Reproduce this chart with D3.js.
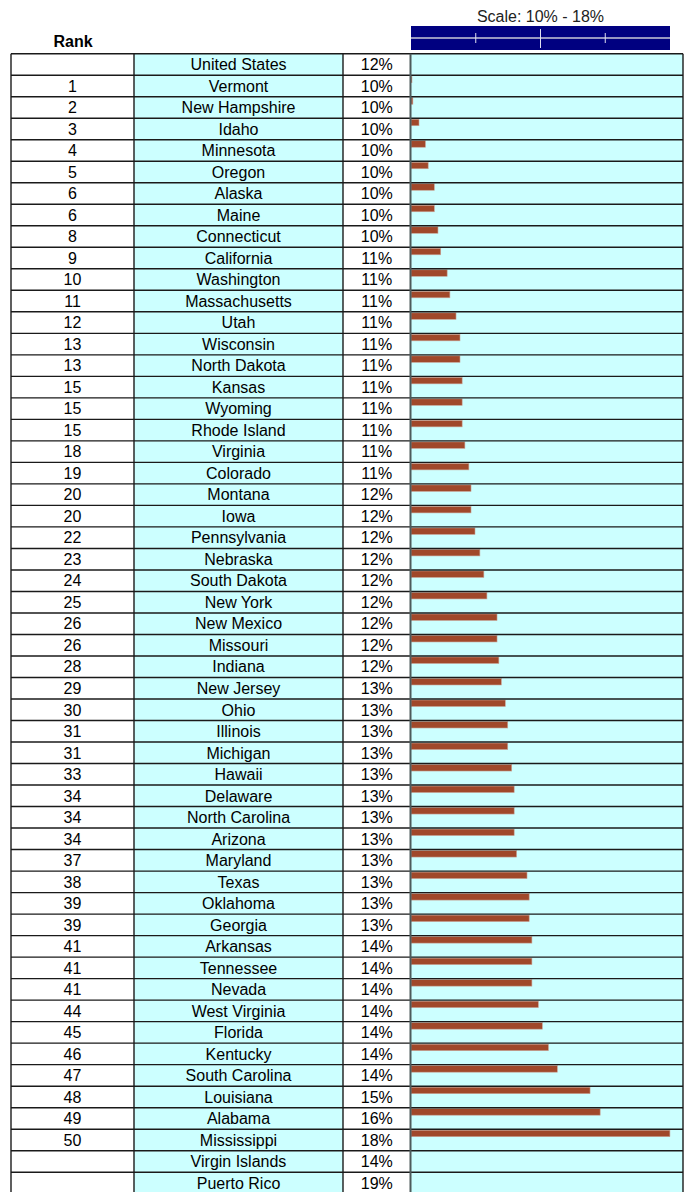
<!DOCTYPE html>
<html>
<head>
<meta charset="utf-8">
<script src="https://cdn.jsdelivr.net/npm/d3@7"></script>
<style>
  body { margin: 0; background: #fff; }
  svg { display: block; font-family: "Liberation Sans", Arial, sans-serif; }
</style>
</head>
<body>
<div id="chart"></div>
<script>
// rows of the table, top to bottom
var names = ["United States", "Vermont", "New Hampshire", "Idaho", "Minnesota", "Oregon", "Alaska", "Maine",
  "Connecticut", "California", "Washington", "Massachusetts", "Utah", "Wisconsin", "North Dakota", "Kansas",
  "Wyoming", "Rhode Island", "Virginia", "Colorado", "Montana", "Iowa", "Pennsylvania", "Nebraska",
  "South Dakota", "New York", "New Mexico", "Missouri", "Indiana", "New Jersey", "Ohio", "Illinois",
  "Michigan", "Hawaii", "Delaware", "North Carolina", "Arizona", "Maryland", "Texas", "Oklahoma", "Georgia",
  "Arkansas", "Tennessee", "Nevada", "West Virginia", "Florida", "Kentucky", "South Carolina", "Louisiana",
  "Alabama", "Mississippi", "Virgin Islands", "Puerto Rico"];
var ranks = ["", "1", "2", "3", "4", "5", "6", "6", "8", "9", "10", "11", "12", "13", "13", "15", "15", "15",
  "18", "19", "20", "20", "22", "23", "24", "25", "26", "26", "28", "29", "30", "31", "31", "33", "34", "34",
  "34", "37", "38", "39", "39", "41", "41", "41", "44", "45", "46", "47", "48", "49", "50", "", ""];
// percent values
var values = [12.1, 9.60, 9.63, 9.83, 10.04, 10.13, 10.33, 10.33, 10.45, 10.54, 10.75, 10.84, 11.04, 11.17,
  11.17, 11.24, 11.24, 11.24, 11.33, 11.46, 11.53, 11.53, 11.66, 11.82, 11.95, 12.05, 12.38, 12.38, 12.44,
  12.52, 12.65, 12.73, 12.73, 12.86, 12.94, 12.94, 12.94, 13.02, 13.36, 13.43, 13.43, 13.52, 13.52, 13.52,
  13.73, 13.86, 14.06, 14.35, 15.42, 15.75, 18.03, 14.0, 19.0];
// rows that get a bar (states only)
var hasBar = names.map(function(d, i){ return i > 0 && i < 51; });
var scaleTicks = [12, 14, 16];
var scaleDomain = [10, 18];

var W = 684, H = 1192;
var colX = [11, 134, 343, 410.5, 683];
var cyan = "#ccffff", barColor = "#a0482a", lineColor = "#1a1a1a";

var svg = d3.select("#chart").append("svg")
    .attr("width", W)
    .attr("height", H);

var y = d3.scaleBand()
    .domain(names)
    .range([53.7, 53.7 + names.length * 21.51]);

// bar scale
var x = d3.scaleLinear().domain(scaleDomain).range([424.2, 669]);
// header scale
var hx = d3.scaleLinear().domain(scaleDomain).range([411, 670]);

// cyan columns
svg.append("rect").attr("x", colX[1]).attr("y", y.range()[0])
    .attr("width", colX[2] - colX[1]).attr("height", H).style("fill", cyan);
svg.append("rect").attr("x", colX[3]).attr("y", y.range()[0])
    .attr("width", colX[4] - colX[3]).attr("height", H).style("fill", cyan);

// bars
svg.selectAll("rect.bar")
    .data(names.filter(function(d, i){ return hasBar[i]; }))
    .enter()
    .append("rect")
    .attr("class", "bar")
    .attr("x", colX[3] + 0.5)
    .attr("y", function(d){ return y(d) + 1; })
    .attr("height", 6.5)
    .attr("width", function(d){ return Math.max(0.8, x(values[names.indexOf(d)]) - colX[3] - 0.5); })
    .style("fill", barColor)
    .style("stroke", "#c9a497")
    .style("stroke-width", 0.6);

// horizontal grid
var lines = names.map(function(d){ return y(d); });
lines.push(y.range()[1]);
svg.selectAll("line.h")
    .data(lines)
    .enter()
    .append("line")
    .attr("x1", colX[0]).attr("x2", colX[4])
    .attr("y1", function(d){ return d; }).attr("y2", function(d){ return d; })
    .style("stroke", lineColor)
    .style("stroke-width", 1.4);

// vertical grid
svg.selectAll("line.v")
    .data(colX)
    .enter()
    .append("line")
    .attr("x1", function(d){ return d; }).attr("x2", function(d){ return d; })
    .attr("y1", y.range()[0]).attr("y2", H)
    .style("stroke", function(d, i){ return i == 3 ? "#4d5a5a" : lineColor; })
    .style("stroke-width", function(d, i){ return i == 3 ? 2 : 1.4; });

// text columns
var cols = [
  {cx: (colX[0] + colX[1]) / 2, text: function(d, i){ return ranks[i]; }},
  {cx: (colX[1] + colX[2]) / 2, text: function(d){ return d; }},
  {cx: (colX[2] + colX[3]) / 2, text: function(d, i){ return Math.round(values[i]) + "%"; }}
];
cols.forEach(function(c){
  svg.append("g").selectAll("text")
    .data(names)
    .enter()
    .append("text")
    .attr("x", c.cx)
    .attr("y", function(d){ return y(d) + y.bandwidth() / 2; })
    .attr("dy", "0.36em")
    .attr("text-anchor", "middle")
    .style("font-size", "16px")
    .style("fill", "#000")
    .text(c.text);
});

// header
svg.append("text")
    .attr("x", 73).attr("y", 47)
    .attr("text-anchor", "middle")
    .style("font-size", "16px")
    .style("font-weight", "bold")
    .text("Rank");

svg.append("text")
    .attr("x", hx(14)).attr("y", 22)
    .attr("text-anchor", "middle")
    .style("font-size", "16px")
    .style("fill", "#222")
    .text("Scale: " + scaleDomain[0] + "% - " + scaleDomain[1] + "%");

svg.append("rect")
    .attr("x", hx(scaleDomain[0])).attr("y", 26)
    .attr("width", hx(scaleDomain[1]) - hx(scaleDomain[0])).attr("height", 24)
    .style("fill", "#000080");

svg.append("line")
    .attr("x1", hx(scaleDomain[0])).attr("x2", hx(scaleDomain[1]))
    .attr("y1", 38).attr("y2", 38)
    .style("stroke", "#c8c8d8")
    .style("stroke-width", 1.5);

svg.selectAll("line.tick")
    .data(scaleTicks)
    .enter()
    .append("line")
    .attr("x1", function(d){ return hx(d); }).attr("x2", function(d){ return hx(d); })
    .attr("y1", function(d){ return d == 14 ? 29 : 33; })
    .attr("y2", function(d){ return d == 14 ? 48 : 43; })
    .style("stroke", "#e0e0f0")
    .style("stroke-width", 1);
</script>
</body>
</html>
